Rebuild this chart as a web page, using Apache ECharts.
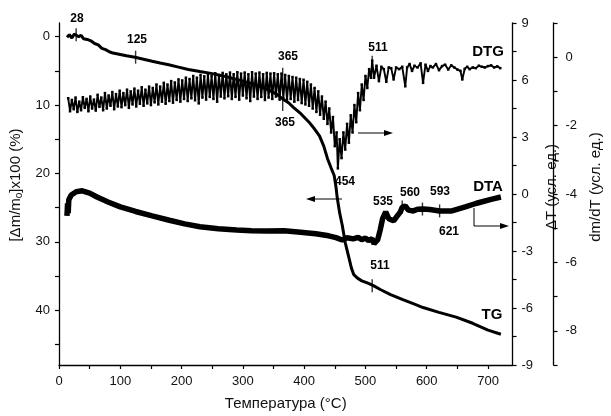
<!DOCTYPE html>
<html>
<head>
<meta charset="utf-8">
<script src="https://cdn.jsdelivr.net/npm/echarts@6/dist/echarts.min.js"></script>
<style>
  html, body { margin: 0; padding: 0; background: #fff; }
  #chart { width: 611px; height: 416px; }
</style>
</head>
<body>
<div id="chart"></div>
<script>
// tick values
var xLabels = [0, 100, 200, 300, 400, 500, 600, 700];
var xTicks = [0, 50, 100, 150, 200, 250, 300, 350, 400, 450, 500, 550, 600, 650, 700];
var tgLabels = [0, 10, 20, 30, 40];
var tgTicks = [0, 5, 10, 15, 20, 25, 30, 35, 40, 45];
var dmLabels = [-8, -6, -4, -2, 0];
var dmTicks = [-9, -8, -7, -6, -5, -4, -3, -2, -1, 0, 1];

// TG, [T, %] (left axis, inverted)
var tgData = [[13,0.1],[17,-0.3],[21,0.2],[25,-0.4],[28,-0.3],[32,0.0],[36,-0.2],[40,0.3],[46,0.4],
  [52,0.6],[58,1.0],[64,1.2],[70,1.7],[76,1.9],[82,2.2],[88,2.4],[94,2.5],[100,2.6],[110,2.8],
  [124,3.0],[138,3.3],[152,3.6],[165,3.85],[179,4.1],[195,4.45],[211,4.8],[230,5.1],[250,5.4],
  [275,5.9],[300,6.5],[320,7.0],[340,7.7],[355,8.4],[365,9.1],[375,9.7],[382,10.3],[395,11.3],
  [408,12.5],[417,13.5],[425,14.5],[432,16.0],[438,17.8],[444,19.2],[449,20.3],[452,22.0],
  [454,23.6],[458,25.8],[462,27.5],[467,30.1],[473,32.3],[477,33.8],[481,34.8],[487,35.3],
  [494,35.7],[503,36.0],[513,36.4],[525,37.0],[541,37.7],[560,38.4],[580,39.1],[594,39.6],
  [620,40.3],[648,41.0],[675,41.9],[700,42.9],[721,43.5]];

// DTA, [T, dT] (first right axis)
var dtaData = [[13,-1.15],[14,-0.5],[15,-1.0],[16,-0.3],[20,-0.05],[28,0.12],[38,0.17],[50,0.05],
  [62,-0.16],[80,-0.42],[100,-0.68],[125,-0.92],[152,-1.15],[180,-1.38],[205,-1.57],[230,-1.72],
  [260,-1.83],[290,-1.9],[314,-1.94],[340,-1.95],[367,-1.94],[390,-2.0],[419,-2.09],[440,-2.2],
  [452,-2.3],[462,-2.42],[470,-2.3],[480,-2.36],[488,-2.28],[494,-2.4],[500,-2.32],[505,-2.45],
  [511,-2.35],[514,-2.62],[520,-2.4],[524,-1.9],[528,-1.3],[533,-0.94],[538,-1.3],[546,-1.41],
  [552,-1.15],[557,-0.94],[560,-0.7],[565,-0.63],[570,-0.85],[578,-0.89],[585,-0.8],[594,-0.79],
  [605,-0.82],[621,-0.89],[641,-0.89],[663,-0.68],[680,-0.5],[689,-0.42],[705,-0.28],[721,-0.16]];

// DTG, [T, dm/dT] (second right axis)
var dtgData = [[15,-1.20],[18,-1.58],[21,-1.25],[24,-1.52],[27,-1.18],[30,-1.60],[33,-1.30],[36,-1.55],
  [39,-1.17],[42,-1.48],[45,-1.22],[48,-1.58],[51,-1.15],[54,-1.50],[57,-1.24],[60,-1.56],[63,-1.10],
  [66,-1.45],[69,-1.18],[72,-1.55],[75,-1.05],[78,-1.50],[81,-1.12],[84,-1.42],[87,-1.02],[90,-1.52],
  [93,-1.08],[96,-1.44],[99,-0.98],[102,-1.46],[105,-1.05],[108,-1.40],[111,-0.95],[114,-1.48],
  [117,-1.00],[120,-1.38],[123,-0.92],[126,-1.44],[129,-0.98],[132,-1.36],[135,-0.88],[138,-1.42],
  [141,-0.95],[144,-1.35],[147,-0.86],[150,-1.40],[153,-0.90],[156,-1.32],[159,-0.80],[162,-1.38],
  [165,-0.86],[168,-1.30],[171,-0.75],[174,-1.36],[177,-0.80],[180,-1.28],[183,-0.70],[186,-1.33],
  [189,-0.74],[192,-1.25],[195,-0.65],[198,-1.30],[201,-0.68],[204,-1.22],[207,-0.60],[210,-1.28],
  [213,-0.64],[216,-1.20],[219,-0.55],[222,-1.26],[225,-0.60],[228,-1.35],[231,-0.52],[234,-1.18],
  [237,-0.56],[240,-1.24],[243,-0.50],[246,-1.16],[249,-0.55],[252,-1.22],[255,-0.47],[258,-1.30],
  [261,-0.52],[264,-1.15],[267,-0.46],[270,-1.20],[273,-0.50],[276,-1.14],[279,-0.45],[282,-1.22],
  [285,-0.50],[288,-1.16],[291,-0.44],[294,-1.24],[297,-0.48],[300,-1.12],[303,-0.45],[306,-1.20],
  [309,-0.50],[312,-1.28],[315,-0.44],[318,-1.15],[321,-0.48],[324,-1.22],[327,-0.45],[330,-1.16],
  [333,-0.50],[336,-1.25],[339,-0.46],[342,-1.18],[345,-0.48],[348,-1.22],[351,-0.47],[354,-1.15],
  [357,-0.50],[360,-1.24],[363,-0.48],[366,-1.20],[369,-0.52],[372,-1.26],[375,-0.55],[378,-1.22],
  [381,-0.58],[384,-1.30],[387,-0.60],[390,-1.25],[393,-0.64],[396,-1.34],[399,-0.66],[402,-1.38],
  [405,-0.72],[408,-1.42],[411,-0.80],[414,-1.50],[417,-0.90],[420,-1.60],[423,-1.00],[426,-1.68],
  [429,-1.15],[432,-1.80],[435,-1.30],[438,-1.95],[441,-1.50],[444,-2.20],[447,-1.75],[450,-2.60],
  [453,-2.20],[455,-3.25],[458,-2.40],[461,-2.95],[464,-2.20],[467,-2.70],[470,-1.95],[473,-2.50],
  [476,-1.70],[479,-2.20],[482,-1.40],[485,-1.90],[488,-1.05],[491,-1.55],[494,-0.80],[497,-1.25],
  [500,-0.55],[503,-0.90],[506,-0.35],[509,-0.60],[511,-0.10],[514,-0.60],[518,-0.25],[522,-0.70],
  [526,-0.28],[530,-0.35],[534,-0.72],[538,-0.30],[542,-0.32],[546,-0.65],[550,-0.30],[555,-0.35],
  [560,-0.28],[565,-0.85],[568,-0.30],[572,-0.20],[576,-0.40],[580,-0.25],[585,-0.30],[590,-0.18],
  [594,-0.75],[598,-0.22],[602,-0.40],[606,-0.26],[610,-0.30],[615,-0.20],[620,-0.38],[625,-0.26],
  [630,-0.22],[635,-0.36],[640,-0.24],[645,-0.30],[650,-0.36],[655,-0.40],[658,-0.65],[662,-0.34],
  [666,-0.28],[670,-0.35],[675,-0.30],[680,-0.32],[685,-0.25],[690,-0.28],[695,-0.30],[700,-0.26],
  [705,-0.24],[710,-0.30],[715,-0.27],[720,-0.32]];

// small vertical marks on the curves
var tgMarks = [[28,-0.3],[125,3.0],[365,9.9],[511,36.4]];
var dtaMarks = [[560,-0.68],[593,-0.79],[621,-0.89]];
var dtgMarks = [[365,-0.5],[511,-0.15]];

var FONT = '"Liberation Sans", Arial, sans-serif';
var INK = '#111';

var chart = echarts.init(document.getElementById('chart'));

function lbl(text, x, y, size) {
  return {
    type: 'text', x: x, y: y, z: 10,
    style: {
      text: text, font: 'bold ' + (size || 12) + 'px ' + FONT, fill: '#000',
      align: 'center', verticalAlign: 'middle', textAlign: 'center', textVerticalAlign: 'middle'
    }
  };
}

var tickStyle = { color: '#000', width: 1.2 };

chart.setOption({
  animation: false,
  backgroundColor: '#fff',
  grid: { left: 59, right: 85, top: 23, bottom: 49, show: false },
  xAxis: {
    type: 'value', min: 0, max: 740, position: 'bottom',
    axisLine: { onZero: false, lineStyle: { color: '#000', width: 1.3 } },
    axisTick: { customValues: xTicks, length: 4, lineStyle: tickStyle },
    axisLabel: { customValues: xLabels, margin: 10, color: INK, fontSize: 13, fontFamily: FONT },
    splitLine: { show: false },
    name: 'Температура (°C)', nameLocation: 'middle', nameGap: 31,
    nameTextStyle: { color: INK, fontSize: 15, fontFamily: FONT }
  },
  yAxis: [
    {
      type: 'value', min: -2, max: 48, inverse: true, position: 'left',
      axisLine: { show: true, onZero: false, lineStyle: { color: '#000', width: 1.3 } },
      axisTick: { show: true, customValues: tgTicks, length: 4, lineStyle: tickStyle },
      axisLabel: { customValues: tgLabels, margin: 9, color: INK, fontSize: 13, fontFamily: FONT },
      splitLine: { show: false },
      name: '[Δm/m{sub|o}]x100 (%)', nameLocation: 'middle', nameGap: 30, nameRotate: 90,
      nameTextStyle: {
        color: INK, fontSize: 15, fontFamily: FONT, padding: [0, 0, 0, 18],
        rich: { sub: { fontSize: 10, fontFamily: FONT, color: INK, verticalAlign: 'bottom', padding: [7, 0, 0, 0] } }
      }
    },
    {
      type: 'value', min: -9, max: 9, interval: 3, position: 'right', offset: 0,
      axisLine: { show: true, onZero: false, lineStyle: { color: '#000', width: 1.3 } },
      axisTick: { show: true, length: 4, lineStyle: tickStyle },
      minorTick: { show: true, splitNumber: 2, length: 4, lineStyle: tickStyle },
      axisLabel: { margin: 9, color: INK, fontSize: 13, fontFamily: FONT },
      splitLine: { show: false },
      name: 'ΔT (усл. ед.)', nameLocation: 'middle', nameGap: 22, nameRotate: 90,
      nameTextStyle: { color: INK, fontSize: 15, fontFamily: FONT, padding: [0, 0, 0, 14] }
    },
    {
      type: 'value', min: -9, max: 1, position: 'right', offset: 41,
      axisLine: { show: true, onZero: false, lineStyle: { color: '#000', width: 1.3 } },
      axisTick: { show: true, customValues: dmTicks, length: 4, lineStyle: tickStyle },
      axisLabel: { customValues: dmLabels, margin: 12, color: INK, fontSize: 13, fontFamily: FONT },
      splitLine: { show: false },
      name: 'dm/dT (усл. ед.)', nameLocation: 'middle', nameGap: 29, nameRotate: 90,
      nameTextStyle: { color: INK, fontSize: 15, fontFamily: FONT, padding: [0, 0, 0, 14] }
    }
  ],
  series: [
    {
      name: 'DTG', type: 'line', yAxisIndex: 2, data: dtgData,
      symbol: 'rect', symbolSize: 2.5, showSymbol: true,
      lineStyle: { color: '#000', width: 1.9 },
      itemStyle: { color: '#000' }
    },
    {
      name: 'TG', type: 'line', yAxisIndex: 0, data: tgData, showSymbol: false,
      lineStyle: { color: '#000', width: 3 }
    },
    {
      name: 'DTA', type: 'line', yAxisIndex: 1, data: dtaData, showSymbol: false,
      lineStyle: { color: '#000', width: 5.5 }
    },
    {
      type: 'scatter', yAxisIndex: 0, data: tgMarks, symbol: 'rect', symbolSize: [1.4, 13],
      itemStyle: { color: '#000' }, z: 5
    },
    {
      type: 'scatter', yAxisIndex: 1, data: dtaMarks, symbol: 'rect', symbolSize: [1.4, 13],
      itemStyle: { color: '#000' }, z: 5
    },
    {
      type: 'scatter', yAxisIndex: 2, data: dtgMarks, symbol: 'rect', symbolSize: [1.4, 13],
      itemStyle: { color: '#000' }, z: 5
    }
  ],
  graphic: [
    lbl('28', 77, 19), lbl('125', 137, 40), lbl('365', 288, 57), lbl('365', 285, 123),
    lbl('511', 378, 48), lbl('DTG', 488, 52, 15), lbl('454', 345, 182), lbl('535', 383, 202),
    lbl('560', 410, 193), lbl('593', 440, 192), lbl('DTA', 488, 187, 15), lbl('621', 449, 232),
    lbl('511', 380, 266), lbl('TG', 492, 315, 15),
    // arrows
    { type: 'line', shape: { x1: 313, y1: 199, x2: 342, y2: 199 }, style: { stroke: '#000', lineWidth: 1 } },
    { type: 'polygon', shape: { points: [[306, 199], [315, 196], [315, 202]] }, style: { fill: '#000' } },
    { type: 'line', shape: { x1: 358, y1: 133, x2: 386, y2: 133 }, style: { stroke: '#000', lineWidth: 1 } },
    { type: 'polygon', shape: { points: [[393, 133], [384, 130], [384, 136]] }, style: { fill: '#000' } },
    { type: 'polyline', shape: { points: [[474, 208], [474, 226], [502, 226]] }, style: { stroke: '#000', lineWidth: 1, fill: null } },
    { type: 'polygon', shape: { points: [[509, 226], [500, 223], [500, 229]] }, style: { fill: '#000' } }
  ]
});
</script>
</body>
</html>
